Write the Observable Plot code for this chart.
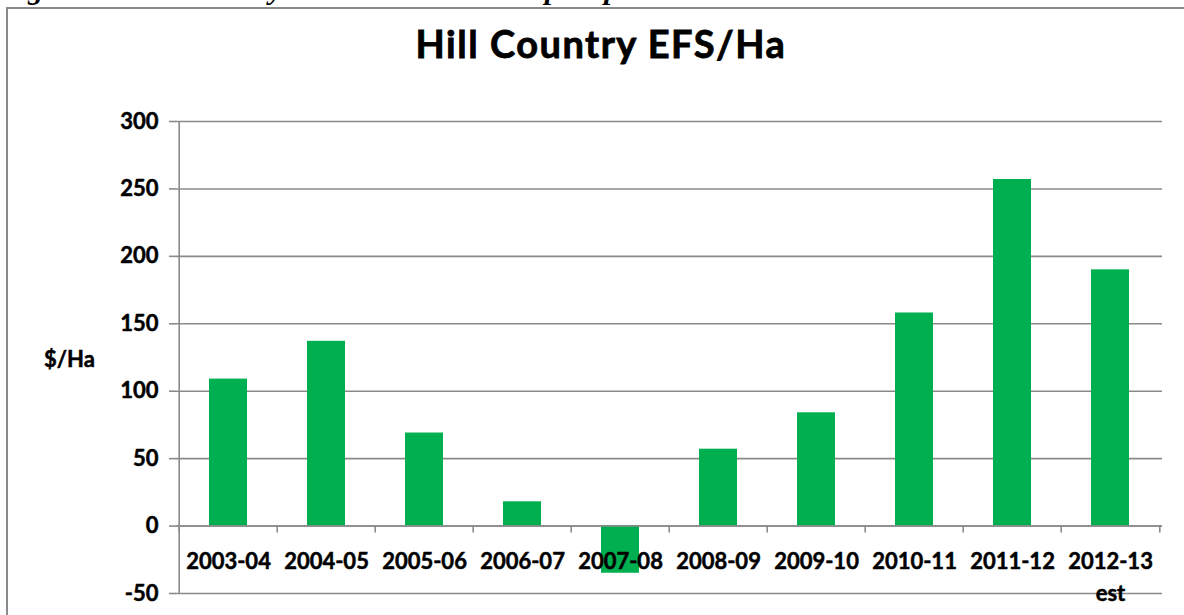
<!DOCTYPE html>
<html>
<head>
<meta charset="utf-8">
<script src="https://cdn.jsdelivr.net/npm/d3@7"></script>
<script src="https://cdn.jsdelivr.net/npm/@observablehq/plot@0.6"></script>
<style>
  html, body { margin: 0; padding: 0; background: #fff; overflow: hidden; }
  #wrap { position: relative; width: 1184px; height: 615px; overflow: hidden; }
  #border { position: absolute; left: 6px; top: 7px; width: 2000px; height: 2000px; border: 2px solid #8a8a8a; box-sizing: border-box; }
  #caption { position: absolute; left: 0px; top: -26px; font: italic bold 30px "Liberation Serif", serif; line-height: 30px; white-space: nowrap; color: #000; }
  #title { position: absolute; left: 0; width: 1202px; top: 20px; text-align: center; font: bold 38px Lato, sans-serif; letter-spacing: 1.5px; line-height: 46px; color: #000; -webkit-text-stroke: 0.8px #000; }
  #ylabel { position: absolute; left: 44px; top: 345px; font: bold 22px Lato, sans-serif; line-height: 28px; color: #000; -webkit-text-stroke: 0.5px #000; }
  #chart { position: absolute; left: 0; top: 0; }
</style>
</head>
<body>
<div id="wrap">
  <div id="caption">Figure 2: Hill Country Economic Farm Surplus per Hectare</div>
  <div id="border"></div>
  <div id="chart"></div>
  <div id="title">Hill Country EFS/Ha</div>
  <div id="ylabel">$/Ha</div>
</div>
<script>
const years = ["2003-04","2004-05","2005-06","2006-07","2007-08","2008-09","2009-10","2010-11","2011-12","2012-13"];
const labels = ["2003-04","2004-05","2005-06","2006-07","2007-08","2008-09","2009-10","2010-11","2011-12","2012-13\nest"];
const efs = [109, 137, 69, 18, -35, 57, 84, 158, 257, 190];
const yTicks = [-50, 0, 50, 100, 150, 200, 250, 300];

const data = years.map((y, i) => ({year: y, label: labels[i], value: efs[i]}));

const W = 1184, H = 615;
const mL = 176, mR = 22, mT = 121, mB = 22;
const bw = (W - mL - mR) / years.length;
const gray = "#8a8a8a";

const chart = Plot.plot({
  width: W,
  height: H,
  marginLeft: mL,
  marginRight: mR,
  marginTop: mT,
  marginBottom: mB,
  style: {fontFamily: "Lato, sans-serif", background: "transparent", overflow: "visible"},
  x: {domain: years, padding: 0, axis: null},
  y: {domain: [-50, 300], label: null},
  marks: [
    Plot.gridY(yTicks, {stroke: gray, strokeOpacity: 1, strokeWidth: 1.6}),
    Plot.barY(data, {x: "year", y: "value", fill: "#00b050", insetLeft: 30, insetRight: 30}),
    Plot.ruleY([0], {stroke: gray, strokeWidth: 1.6}),
    Plot.ruleX([years[0]], {dx: -bw / 2, y1: -50, y2: 300, stroke: gray, strokeWidth: 1.6}),
    Plot.ruleX(years, {dx: -bw / 2, y1: 0, y2: -5.2, stroke: gray, strokeWidth: 1.6}),
    Plot.ruleX([years[years.length - 1]], {dx: bw / 2, y1: 0, y2: -5.2, stroke: gray, strokeWidth: 1.6}),
    Plot.axisY(yTicks, {tickSize: 7, tickPadding: 11, fontSize: 22, fontWeight: "bold", stroke: gray, strokeWidth: 1.6, fill: "black", textStroke: "black", textStrokeWidth: 0.5, label: null, tickFormat: d => String(d)}),
    Plot.text(data, {x: "year", y: 0, text: "label", dy: 20, lineAnchor: "top", fontSize: 22, fontWeight: "bold", lineHeight: 1.45, fill: "black", stroke: "black", strokeWidth: 0.5})
  ]
});
document.getElementById("chart").appendChild(chart);
</script>
</body>
</html>
